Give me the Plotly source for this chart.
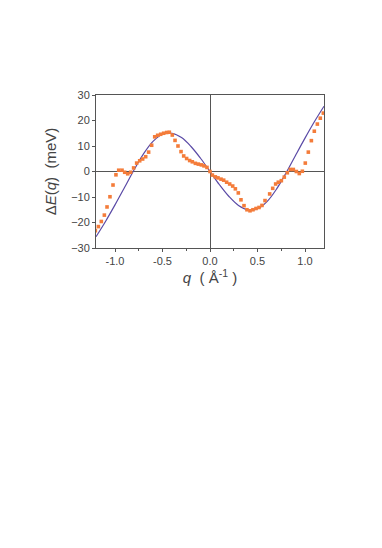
import plotly.graph_objects as go

# model curve
curve_q = [-1.2, -1.1, -1.0, -0.9, -0.8, -0.7, -0.6, -0.5, -0.4, -0.3, -0.2, -0.1, 0.0,
           0.1, 0.2, 0.3, 0.4, 0.5, 0.6, 0.7, 0.8, 0.9, 1.0, 1.1, 1.2]
curve_e = [-25.6, -19.6, -13.1, -6.3, 0.6, 6.9, 11.8, 14.6, 15.0, 13.3, 9.8, 5.2, 0.0,
           -5.2, -9.8, -13.3, -15.0, -14.6, -11.8, -6.9, -0.6, 6.3, 13.1, 19.6, 25.6]

# measured points
data_q = [-1.207, -1.175, -1.144, -1.112, -1.084, -1.053, -1.021, -0.990, -0.961, -0.926,
          -0.898, -0.866, -0.835, -0.804, -0.772, -0.740, -0.709, -0.677, -0.646, -0.614,
          -0.582, -0.551, -0.519, -0.488, -0.456, -0.428, -0.397, -0.368, -0.337, -0.305,
          -0.277, -0.246, -0.214, -0.186, -0.154, -0.123, -0.091, -0.063, -0.032, 0.0,
          0.025, 0.056, 0.084, 0.116, 0.144, 0.175, 0.207, 0.239, 0.267, 0.298,
          0.326, 0.358, 0.389, 0.421, 0.452, 0.484, 0.516, 0.547, 0.579, 0.628,
          0.660, 0.691, 0.719, 0.751, 0.782, 0.814, 0.846, 0.877, 0.909, 0.940,
          0.972, 1.003, 1.035, 1.067, 1.098, 1.130, 1.161, 1.193]
data_e = [-23.2, -21.6, -19.6, -17.1, -13.9, -9.9, -5.3, -1.3, 0.5, 0.5,
          -0.3, -0.9, -0.3, 1.4, 3.3, 4.2, 4.9, 5.8, 7.6, 10.3,
          13.6, 14.2, 14.6, 15.0, 15.3, 15.4, 14.3, 12.2, 10.0, 7.8,
          6.1, 5.1, 4.3, 3.8, 3.2, 2.9, 2.6, 2.2, 1.6, 0.0,
          -1.4, -2.1, -2.5, -3.0, -3.4, -4.2, -4.9, -5.7, -6.8, -8.4,
          -11.1, -13.4, -15.0, -15.4, -15.0, -14.5, -14.1, -13.3, -11.4, -8.8,
          -6.6, -4.9, -4.2, -3.6, -2.2, -0.5, 0.8, 0.8, 0.0, -0.8,
          0.1, 3.3, 7.6, 12.1, 15.8, 18.6, 20.9, 22.9]

x_ticks = [-1.0, -0.5, 0.0, 0.5, 1.0]
y_ticks = [-30, -20, -10, 0, 10, 20, 30]

fig = go.Figure()
fig.add_trace(go.Scatter(
    x=curve_q, y=curve_e, mode='lines',
    line=dict(color='#5a4aa6', width=1.2, shape='spline', smoothing=1.0),
    showlegend=False,
))
fig.add_trace(go.Scatter(
    x=data_q, y=data_e, mode='markers',
    marker=dict(symbol='square', size=3.6, color='#f47c3a', line=dict(width=0)),
    showlegend=False,
))

axis_font = dict(family='Arial, Liberation Sans, sans-serif', size=11, color='#444')
# the page body adds an 8px offset, so margins are shifted to compensate
fig.update_layout(
    width=382, height=548,
    margin=dict(l=88, r=66, t=87, b=308),
    paper_bgcolor='white', plot_bgcolor='white',
    font=dict(family='Arial, Liberation Sans, sans-serif', color='#444'),
    xaxis=dict(
        range=[-1.2, 1.2], tickvals=x_ticks, ticktext=[f'{v:.1f}' for v in x_ticks],
        ticks='outside', ticklen=3, tickcolor='#555', tickfont=axis_font,
        minor=dict(dtick=0.25, ticks='outside', ticklen=2, tickcolor='#555', tick0=0),
        showline=True, linecolor='#555', linewidth=1, mirror=True,
        showgrid=False, zeroline=True, zerolinecolor='#555', zerolinewidth=1,
        title=dict(text='<i>q</i>  ( Å<sup>-1</sup> )', font=dict(size=15, color='#444'), standoff=1),
    ),
    yaxis=dict(
        range=[-30, 30], tickvals=y_ticks,
        ticks='outside', ticklen=3, tickcolor='#555', tickfont=axis_font,
        showline=True, linecolor='#555', linewidth=1, mirror=True,
        showgrid=False, zeroline=True, zerolinecolor='#555', zerolinewidth=1,
        title=dict(text='Δ<i>E</i>(<i>q</i>)  (meV)', font=dict(size=15, color='#444'), standoff=10),
    ),
)

fig.write_html("out.html")
